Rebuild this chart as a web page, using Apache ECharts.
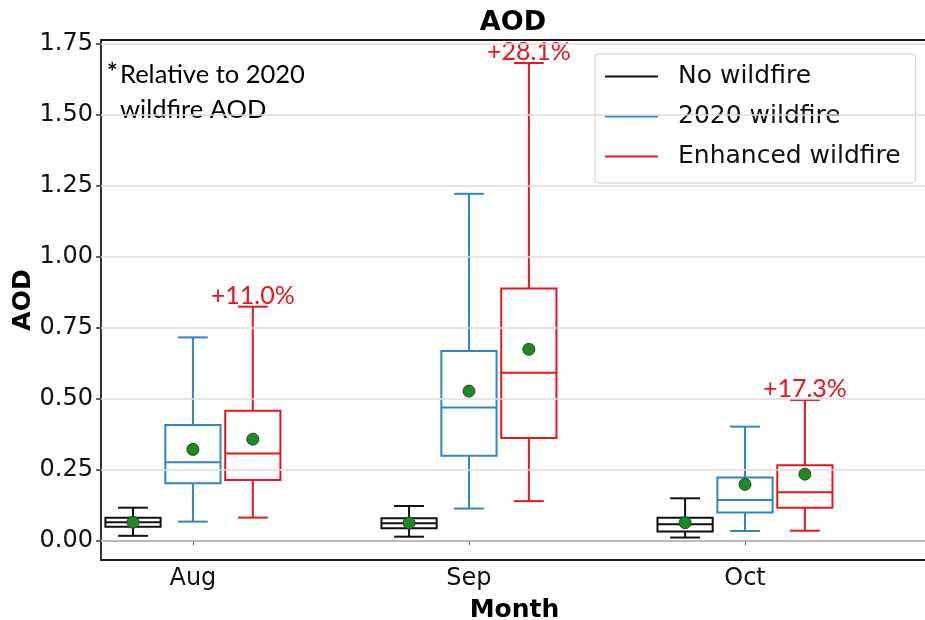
<!DOCTYPE html>
<html lang="en">
<head>
    <meta charset="UTF-8">
    <script src="https://cdn.jsdelivr.net/npm/echarts@6/dist/echarts.min.js"></script>
</head>
<body style="margin:0;background:#fff">
<div id="chart" style="width: 925px;height: 620px"></div>
<script>
    // months on the x axis (positions 1, 2, 3)
    var months = ['Aug', 'Sep', 'Oct'];
    var yTicks = [0, 0.25, 0.5, 0.75, 1.0, 1.25, 1.5, 1.75];

    // box stats per month: [lower whisker, q1, median, q3, upper whisker]
    var noFire = [
        [0.018, 0.050, 0.066, 0.082, 0.117],
        [0.015, 0.045, 0.062, 0.080, 0.123],
        [0.012, 0.033, 0.059, 0.082, 0.150]
    ];
    var fire2020 = [
        [0.068, 0.203, 0.277, 0.408, 0.716],
        [0.114, 0.300, 0.469, 0.668, 1.221],
        [0.035, 0.100, 0.144, 0.223, 0.402]
    ];
    var fireEnh = [
        [0.082, 0.214, 0.308, 0.458, 0.824],
        [0.140, 0.362, 0.592, 0.888, 1.681],
        [0.036, 0.117, 0.171, 0.266, 0.496]
    ];
    // means (green dots)
    var noFireMean = [0.066, 0.063, 0.064];
    var fire2020Mean = [0.322, 0.527, 0.199];
    var fireEnhMean = [0.358, 0.674, 0.235];
    // change of enhanced vs 2020
    var pctLabels = ['+11.0%', '+28.1%', '+17.3%'];

    var BLACK = '#111111', BLUE = '#2f86c9', RED = '#e6161e', GREEN = '#1f8a22';
    var OFFSET = 0.217, BOX_W = 0.2, CAP_W = 0.108;

    function boxRows(stats) {
        return stats.map(function (s, i) { return [i + 1].concat(s); });
    }
    function meanRows(means, off) {
        return means.map(function (m, i) { return [i + 1 + off, m]; });
    }

    function boxRenderer(off, color, labels) {
        return function (params, api) {
            var xc = api.value(0) + off;
            var pLo = api.coord([xc, api.value(1)]);
            var pQ1 = api.coord([xc, api.value(2)]);
            var pMed = api.coord([xc, api.value(3)]);
            var pQ3 = api.coord([xc, api.value(4)]);
            var pHi = api.coord([xc, api.value(5)]);
            var hb = api.size([BOX_W, 0])[0] / 2;
            var hc = api.size([CAP_W, 0])[0] / 2;
            var st = {stroke: color, lineWidth: 2, fill: null};
            var kids = [
                {type: 'line', shape: {x1: pLo[0], y1: pLo[1], x2: pQ1[0], y2: pQ1[1]}, style: st},
                {type: 'line', shape: {x1: pQ3[0], y1: pQ3[1], x2: pHi[0], y2: pHi[1]}, style: st},
                {type: 'line', shape: {x1: pLo[0] - hc, y1: pLo[1], x2: pLo[0] + hc, y2: pLo[1]}, style: st},
                {type: 'line', shape: {x1: pHi[0] - hc, y1: pHi[1], x2: pHi[0] + hc, y2: pHi[1]}, style: st},
                {type: 'rect', shape: {x: pQ1[0] - hb, y: pQ3[1], width: hb * 2, height: pQ1[1] - pQ3[1]},
                    style: {stroke: color, lineWidth: 2, fill: 'rgba(255,255,255,0)'}},
                {type: 'line', shape: {x1: pMed[0] - hb, y1: pMed[1], x2: pMed[0] + hb, y2: pMed[1]}, style: st}
            ];
            if (labels) {
                kids.push({
                    type: 'text',
                    style: {
                        text: labels[params.dataIndex], x: pHi[0], y: pHi[1] - 11,
                        align: 'center', verticalAlign: 'middle',
                        fontFamily: 'Lato', fontSize: 25, fill: color
                    }
                });
            }
            return {type: 'group', children: kids};
        };
    }

    function boxSeries(name, stats, off, color, labels) {
        return {
            name: name,
            type: 'custom',
            z: 3,
            clip: false,
            itemStyle: {color: color},
            encode: {x: 0, y: [1, 2, 3, 4, 5]},
            data: boxRows(stats),
            renderItem: boxRenderer(off, color, labels)
        };
    }

    function meanSeries(means, off) {
        return {
            type: 'scatter',
            z: 5,
            symbolSize: 12,
            itemStyle: {color: GREEN, borderColor: '#1b4f1b', borderWidth: 1, opacity: 1},
            data: meanRows(means, off)
        };
    }

    var chart = echarts.init(document.getElementById('chart'));
    var labelFont = 'DejaVu Sans';

    var option = {
        animation: false,
        backgroundColor: '#fff',
        grid: {
            left: 101, right: -3, top: 40, bottom: 60,
            outerBoundsMode: 'none',
            containLabel: false,
            show: true, borderColor: '#1a1a1a', borderWidth: 2
        },
        graphic: [
            {type: 'text', x: 513, y: 23, style: {text: 'AOD', fontFamily: labelFont, fontWeight: 'bold', fontSize: 27, fill: '#000', align: 'center', verticalAlign: 'middle'}},
            {type: 'text', x: 107, y: 60, style: {text: '*', fontFamily: 'Lato', fontWeight: 'bold', fontSize: 25, fill: '#000'}},
            {type: 'text', x: 120, y: 62, style: {text: 'Relative to 2020', fontFamily: 'Lato', fontSize: 25.5, fill: '#000'}},
            {type: 'text', x: 120, y: 97, style: {text: 'wildfire AOD', fontFamily: 'Lato', fontSize: 25.5, fill: '#000'}}
        ],
        legend: {
            orient: 'vertical',
            left: 595,
            top: 54,
            padding: [10, 15, 14, 10],
            itemGap: 15,
            itemWidth: 53,
            itemHeight: 2,
            icon: 'rect',
            borderColor: '#d0d0d0',
            borderWidth: 1,
            borderRadius: 4,
            backgroundColor: 'rgba(255,255,255,0.85)',
            textStyle: {fontFamily: labelFont, fontSize: 25, color: '#111', padding: [0, 0, 0, 15]},
            data: ['No wildfire', '2020 wildfire', 'Enhanced wildfire']
        },
        xAxis: {
            type: 'value',
            min: 0.667,
            max: 3.663,
            name: 'Month',
            nameLocation: 'middle',
            nameGap: 38,
            nameMoveOverlap: false,
            nameTextStyle: {fontFamily: labelFont, fontWeight: 'bold', fontSize: 25, color: '#000'},
            axisLine: {show: true, lineStyle: {color: '#555', width: 2}},
            axisTick: {show: true, customValues: [1, 2, 3], length: 4, lineStyle: {color: '#555'}},
            axisLabel: {
                customValues: [1, 2, 3],
                margin: 7,
                fontFamily: labelFont, fontSize: 24, color: '#111',
                formatter: function (v) { return months[Math.round(v) - 1] || ''; }
            },
            splitLine: {show: false}
        },
        yAxis: {
            type: 'value',
            min: -0.067,
            max: 1.762,
            name: 'AOD',
            nameLocation: 'middle',
            nameRotate: 90,
            nameGap: 65,
            nameMoveOverlap: false,
            nameTextStyle: {fontFamily: labelFont, fontWeight: 'bold', fontSize: 25, color: '#000'},
            axisLine: {show: true, lineStyle: {color: '#333', width: 2}},
            axisTick: {show: true, customValues: yTicks, length: 5, lineStyle: {color: '#333', width: 1.5}},
            axisLabel: {
                customValues: yTicks,
                margin: 8,
                fontFamily: labelFont, fontSize: 24, color: '#111',
                formatter: function (v) { return v.toFixed(2); }
            },
            splitLine: {show: false}
        },
        series: [
            {
                type: 'line',
                data: [],
                z: 1,
                silent: true,
                markLine: {
                    silent: true,
                    symbol: 'none',
                    label: {show: false},
                    lineStyle: {color: '#dcdcdc', width: 1.5, type: 'solid'},
                    data: yTicks.map(function (v) { return {yAxis: v}; })
                }
            },
            boxSeries('No wildfire', noFire, -OFFSET, BLACK),
            boxSeries('2020 wildfire', fire2020, 0, BLUE),
            boxSeries('Enhanced wildfire', fireEnh, OFFSET, RED, pctLabels),
            meanSeries(noFireMean, -OFFSET),
            meanSeries(fire2020Mean, 0),
            meanSeries(fireEnhMean, OFFSET)
        ]
    };

    chart.setOption(option);
</script>
</body>
</html>
